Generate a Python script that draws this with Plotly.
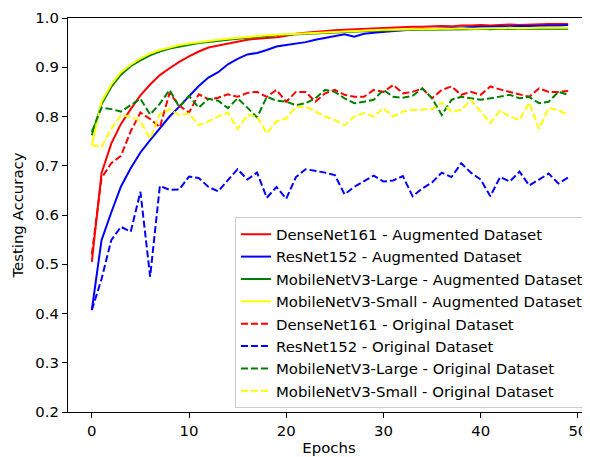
import plotly.graph_objects as go

epochs = list(range(50))

densenet_aug = [0.505, 0.685, 0.745, 0.785, 0.815, 0.843, 0.865, 0.884, 0.898, 0.911,
                0.922, 0.932, 0.940, 0.944, 0.949, 0.953, 0.956, 0.958, 0.959, 0.961,
                0.964, 0.968, 0.970, 0.972, 0.974, 0.975, 0.976, 0.977, 0.977, 0.978,
                0.979, 0.980, 0.981, 0.982, 0.982, 0.983, 0.984, 0.983, 0.985, 0.985,
                0.986, 0.985, 0.986, 0.987, 0.986, 0.987, 0.987, 0.988, 0.988, 0.988]
resnet_aug = [0.407, 0.549, 0.605, 0.658, 0.695, 0.727, 0.752, 0.776, 0.800, 0.820,
              0.842, 0.862, 0.879, 0.890, 0.906, 0.917, 0.926, 0.929, 0.935, 0.942,
              0.945, 0.948, 0.951, 0.956, 0.960, 0.963, 0.967, 0.962, 0.968, 0.970,
              0.972, 0.974, 0.975, 0.976, 0.977, 0.978, 0.979, 0.980, 0.980, 0.981,
              0.982, 0.982, 0.983, 0.983, 0.984, 0.984, 0.985, 0.985, 0.985, 0.986]
mnl_aug = [0.762, 0.825, 0.860, 0.885, 0.902, 0.914, 0.924, 0.932, 0.938, 0.942,
           0.946, 0.949, 0.951, 0.954, 0.956, 0.958, 0.960, 0.962, 0.963, 0.965,
           0.966, 0.967, 0.968, 0.969, 0.970, 0.971, 0.972, 0.972, 0.973, 0.974,
           0.974, 0.975, 0.975, 0.976, 0.976, 0.976, 0.977, 0.977, 0.977, 0.977,
           0.978, 0.977, 0.978, 0.978, 0.978, 0.978, 0.979, 0.978, 0.978, 0.978]
mns_aug = [0.742, 0.830, 0.865, 0.890, 0.905, 0.918, 0.928, 0.935, 0.940, 0.945,
           0.948, 0.951, 0.953, 0.956, 0.958, 0.960, 0.962, 0.963, 0.965, 0.966,
           0.967, 0.968, 0.969, 0.970, 0.971, 0.972, 0.973, 0.973, 0.974, 0.975,
           0.976, 0.976, 0.977, 0.977, 0.977, 0.978, 0.978, 0.978, 0.979, 0.978,
           0.979, 0.979, 0.979, 0.980, 0.979, 0.980, 0.980, 0.980, 0.980, 0.980]
densenet_orig = [0.520, 0.675, 0.705, 0.720, 0.770, 0.808, 0.795, 0.778, 0.848, 0.822,
                 0.808, 0.845, 0.835, 0.838, 0.845, 0.840, 0.848, 0.850, 0.840, 0.854,
                 0.830, 0.850, 0.850, 0.830, 0.847, 0.854, 0.844, 0.840, 0.840, 0.854,
                 0.850, 0.864, 0.847, 0.850, 0.857, 0.837, 0.854, 0.861, 0.844, 0.850,
                 0.844, 0.861, 0.855, 0.850, 0.844, 0.840, 0.857, 0.850, 0.850, 0.852]
resnet_orig = [0.407, 0.470, 0.549, 0.576, 0.566, 0.647, 0.475, 0.659, 0.651, 0.652,
               0.678, 0.675, 0.657, 0.648, 0.671, 0.693, 0.672, 0.686, 0.635, 0.657,
               0.633, 0.677, 0.693, 0.690, 0.686, 0.681, 0.642, 0.657, 0.668, 0.680,
               0.668, 0.670, 0.679, 0.638, 0.654, 0.666, 0.686, 0.677, 0.705, 0.686,
               0.672, 0.638, 0.677, 0.668, 0.688, 0.660, 0.672, 0.684, 0.664, 0.676]
mnl_orig = [0.769, 0.818, 0.815, 0.810, 0.823, 0.836, 0.804, 0.826, 0.854, 0.819,
            0.842, 0.818, 0.836, 0.832, 0.817, 0.837, 0.818, 0.798, 0.840, 0.832,
            0.830, 0.823, 0.827, 0.837, 0.854, 0.850, 0.837, 0.827, 0.830, 0.834,
            0.854, 0.840, 0.838, 0.842, 0.857, 0.837, 0.803, 0.834, 0.840, 0.837,
            0.834, 0.837, 0.840, 0.844, 0.837, 0.840, 0.827, 0.830, 0.850, 0.844]
mns_orig = [0.742, 0.738, 0.775, 0.803, 0.800, 0.790, 0.755, 0.805, 0.815, 0.803,
            0.806, 0.782, 0.790, 0.800, 0.808, 0.775, 0.803, 0.800, 0.766, 0.790,
            0.796, 0.820, 0.820, 0.810, 0.800, 0.793, 0.782, 0.800, 0.807, 0.800,
            0.817, 0.800, 0.810, 0.813, 0.814, 0.815, 0.828, 0.810, 0.813, 0.834,
            0.810, 0.787, 0.812, 0.800, 0.793, 0.828, 0.775, 0.817, 0.813, 0.803]

series = [
    ("DenseNet161 - Augmented Dataset", densenet_aug, "#ff0000", "solid"),
    ("ResNet152 - Augmented Dataset", resnet_aug, "#0000ff", "solid"),
    ("MobileNetV3-Large - Augmented Dataset", mnl_aug, "#008000", "solid"),
    ("MobileNetV3-Small - Augmented Dataset", mns_aug, "#ffff00", "solid"),
    ("DenseNet161 - Original Dataset", densenet_orig, "#ff0000", "7px,3px"),
    ("ResNet152 - Original Dataset", resnet_orig, "#0000ff", "7px,3px"),
    ("MobileNetV3-Large - Original Dataset", mnl_orig, "#008000", "7px,3px"),
    ("MobileNetV3-Small - Original Dataset", mns_orig, "#ffff00", "7px,3px"),
]

fig = go.Figure()
for i, (name, vals, color, dash) in enumerate(series):
    fig.add_trace(go.Scatter(
        x=epochs, y=vals, mode="lines", name=name, legendgroup=f"g{i}",
        line=dict(color=color, width=2, dash=dash),
    ))

font = "DejaVu Sans, sans-serif"
fs = 14.9
# the page body adds an 8px offset; size the figure so it fills the 590x457 window
fig.update_layout(
    width=582, height=449,
    margin=dict(l=60, r=0, t=10, b=45),
    paper_bgcolor="white", plot_bgcolor="white",
    font=dict(family=font, size=fs, color="black"),
    showlegend=True,
    legend=dict(
        x=0.998, y=0.01, xanchor="right", yanchor="bottom",
        bgcolor="rgba(255,255,255,0.8)", bordercolor="#cccccc", borderwidth=1,
        font=dict(family=font, size=fs, color="black"),
        tracegroupgap=0, itemwidth=30,
    ),
    xaxis=dict(
        range=[-2.45, 51.25], tickvals=[0, 10, 20, 30, 40, 50],
        showgrid=False, zeroline=False, showline=True, linecolor="black",
        linewidth=1, mirror=True, ticks="outside", ticklen=5, tickcolor="black",
        automargin=False,
        title=dict(text="Epochs", standoff=6, font=dict(size=fs)),
    ),
    yaxis=dict(
        range=[0.2, 1.0], tickvals=[0.2, 0.3, 0.4, 0.5, 0.6, 0.7, 0.8, 0.9, 1.0],
        tickformat=".1f",
        showgrid=False, zeroline=False, showline=True, linecolor="black",
        linewidth=1, mirror=False, ticks="outside", ticklen=5, tickcolor="black",
        automargin=False,
        title=dict(text="Testing Accuracy", standoff=8, font=dict(size=fs)),
    ),
)

fig.write_html("out.html")
